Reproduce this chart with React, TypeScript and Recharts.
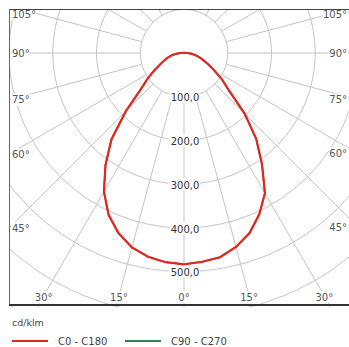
import {
  RadarChart,
  Radar,
  PolarGrid,
  PolarAngleAxis,
  PolarRadiusAxis,
  Legend,
  Customized,
} from "recharts";

// gamma = angle from nadir, 0..180 in 5 degree steps
const gammaAngles = [
  0, 5, 10, 15, 20, 25, 30, 35, 40, 45, 50, 55, 60, 65, 70, 75, 80, 85, 90,
  95, 100, 105, 110, 115, 120, 125, 130, 135, 140, 145, 150, 155, 160, 165,
  170, 175, 180,
];

// cd/klm, right half (C0) and left half (C180)
const c0Values = [
  485, 479, 474, 459, 438, 407, 370, 311, 257, 196, 135, 107, 80, 61, 46, 36,
  26, 16, 8, 4, 2, 0, 0, 0, 0, 0, 0, 0, 0, 0, 0, 0, 0, 0, 0, 0, 0,
];
const c180Values = [
  483, 480, 473, 460, 438, 408, 366, 313, 258, 188, 129, 101, 77, 59, 47, 37,
  27, 16, 8, 4, 2, 0, 0, 0, 0, 0, 0, 0, 0, 0, 0, 0, 0, 0, 0, 0, 0,
];
// C90 - C270 lies under the red curve
const c90Values = [
  485, 479, 474, 459, 438, 407, 370, 311, 257, 196, 135, 107, 80, 61, 46, 36,
  26, 16, 8, 4, 2, 0, 0, 0, 0, 0, 0, 0, 0, 0, 0, 0, 0, 0, 0, 0, 0,
];
const c270Values = [
  483, 480, 473, 460, 438, 408, 366, 313, 258, 188, 129, 101, 77, 59, 47, 37,
  27, 16, 8, 4, 2, 0, 0, 0, 0, 0, 0, 0, 0, 0, 0, 0, 0, 0, 0, 0, 0,
];

const seriesNames = ["C0 - C180", "C90 - C270"];
const seriesColors = ["#e3261f", "#2e8553"];

const gridAngles = [
  0, 15, 30, 45, 60, 75, 90, 105, 120, 135, 150, 165, 180, 195, 210, 225, 240,
  255, 270, 285, 300, 315, 330, 345,
];
const sideLabelAngles = [45, 60, 75, 90, 105];
const bottomLabelAngles = [0, 15, 30];
const radiusDomain = [100, 800];

// layout
const W = 340;
const H = 298;
const CX = 175;
const CY = 44;
const PX_PER_CD = 0.4375;
const BOX_RIGHT = 349;
const BOX_BOTTOM = 296;
const FONT = '"DejaVu Sans", Verdana, sans-serif';

// full circle: theta 0..180 on the left (C180), 180..360 on the right (C0)
const polarData = [
  ...gammaAngles.map((g, i) => ({
    theta: g,
    c0c180: c180Values[i],
    c90c270: c270Values[i],
  })),
  ...gammaAngles
    .map((g, i) => ({
      theta: 360 - g,
      c0c180: c0Values[i],
      c90c270: c90Values[i],
    }))
    .filter((d) => d.theta > 180 && d.theta < 360)
    .reverse(),
];

const formatCd = (v: number) => v.toFixed(1).replace(".", ",");

const RadiusTick = (props: any) => {
  const { x, y, payload } = props;
  // rings below the frame have no visible label
  if (y > BOX_BOTTOM - 8) return <g />;
  const label = formatCd(payload.value);
  return (
    <g>
      <rect x={x - 15} y={y - 6} width={31} height={12} fill="#fff" />
      <text
        x={x + 1}
        y={y + 1}
        textAnchor="middle"
        dominantBaseline="central"
        fontSize={10}
        fontFamily={FONT}
        fill="#333"
      >
        {label}
      </text>
    </g>
  );
};

const AngleFrame = () => {
  const rad = Math.PI / 180;
  const labels: { x: number; y: number; anchor: string; text: string }[] = [];
  sideLabelAngles.forEach((g) => {
    const yL = CY + CX / Math.tan(g * rad);
    const yR = CY + (BOX_RIGHT - CX) / Math.tan(g * rad);
    labels.push({ x: 3, y: Math.max(5, yL), anchor: "start", text: `${g}°` });
    labels.push({ x: 338, y: Math.max(5, yR), anchor: "end", text: `${g}°` });
  });
  bottomLabelAngles.forEach((g) => {
    const dx = (BOX_BOTTOM - 9 - CY) * Math.tan(g * rad);
    labels.push({ x: CX - dx, y: 288, anchor: "middle", text: `${g}°` });
    if (g > 0)
      labels.push({ x: CX + dx, y: 288, anchor: "middle", text: `${g}°` });
  });
  return (
    <g>
      {labels.map((l, i) => {
        const w = l.text.length * 6.2;
        const rx =
          l.anchor === "start" ? l.x - 1 : l.anchor === "end" ? l.x - w + 1 : l.x - w / 2;
        return (
          <g key={i}>
            <rect x={rx} y={l.y - 6} width={w} height={12} fill="#fff" />
            <text
              x={l.x}
              y={l.y}
              textAnchor={l.anchor as any}
              dominantBaseline="central"
              fontSize={10}
              fontFamily={FONT}
              fill="#555"
            >
              {l.text}
            </text>
          </g>
        );
      })}
      <line x1={0.5} y1={0} x2={0.5} y2={BOX_BOTTOM} stroke="#666" strokeWidth={1} />
      <line x1={0} y1={0.5} x2={BOX_RIGHT} y2={0.5} stroke="#444" strokeWidth={1} />
      <line x1={0} y1={BOX_BOTTOM} x2={BOX_RIGHT} y2={BOX_BOTTOM} stroke="#333" strokeWidth={2} />
    </g>
  );
};

const LegendContent = ({ payload }: any) => {
  const items = seriesNames
    .map((n) => (payload || []).find((p: any) => p.value === n))
    .filter(Boolean);
  return (
    <svg width={349} height={40} style={{ display: "block" }}>
      <text x={12} y={10} dominantBaseline="central" fontSize={9.5} fontFamily={FONT} fill="#444">
        cd/klm
      </text>
      {items.map((p: any, i: number) => {
        const x0 = 12 + i * 113;
        return (
          <g key={p.value}>
            <line x1={x0} y1={29} x2={x0 + 36} y2={29} stroke={p.color} strokeWidth={2} />
            <text
              x={x0 + 46}
              y={29}
              dominantBaseline="central"
              fontSize={10}
              fontFamily={FONT}
              fill="#444"
            >
              {p.value}
            </text>
          </g>
        );
      })}
    </svg>
  );
};

export default function App() {
  return (
    <div
      style={{
        position: "absolute",
        left: 0,
        top: 0,
        width: 349,
        height: 347,
        background: "#fff",
        overflow: "hidden",
      }}
    >
      <div style={{ position: "absolute", left: 9, top: 9, width: W, height: H }}>
        <RadarChart
          width={W}
          height={H}
          data={polarData}
          cx={CX}
          cy={CY}
          innerRadius={radiusDomain[0] * PX_PER_CD}
          outerRadius={radiusDomain[1] * PX_PER_CD}
          startAngle={-90}
          endAngle={-450}
          margin={{ top: 0, right: 0, bottom: 0, left: 0 }}
        >
          <PolarGrid
            gridType="circle"
            polarAngles={gridAngles.map((g) => -90 - g)}
            stroke="#c4c4c4"
            strokeWidth={1}
          />
          <PolarAngleAxis
            dataKey="theta"
            type="number"
            domain={[0, 360]}
            tick={false}
            axisLine={false}
          />
          <PolarRadiusAxis
            angle={-90}
            domain={radiusDomain}
            allowDataOverflow
            tickCount={8}
            axisLine={false}
            tick={<RadiusTick />}
          />
          <Radar
            name={seriesNames[1]}
            dataKey="c90c270"
            stroke={seriesColors[1]}
            strokeWidth={1.6}
            fill="none"
            fillOpacity={0}
            dot={false}
            legendType="plainline"
            isAnimationActive={false}
          />
          <Radar
            name={seriesNames[0]}
            dataKey="c0c180"
            stroke={seriesColors[0]}
            strokeWidth={2.2}
            fill="none"
            fillOpacity={0}
            dot={false}
            legendType="plainline"
            isAnimationActive={false}
          />
          <Customized component={AngleFrame} />
          <Legend
            content={<LegendContent />}
            wrapperStyle={{
              position: "absolute",
              left: -9,
              top: 303,
              bottom: "auto",
              width: 349,
              height: 40,
            }}
          />
        </RadarChart>
      </div>
    </div>
  );
}
